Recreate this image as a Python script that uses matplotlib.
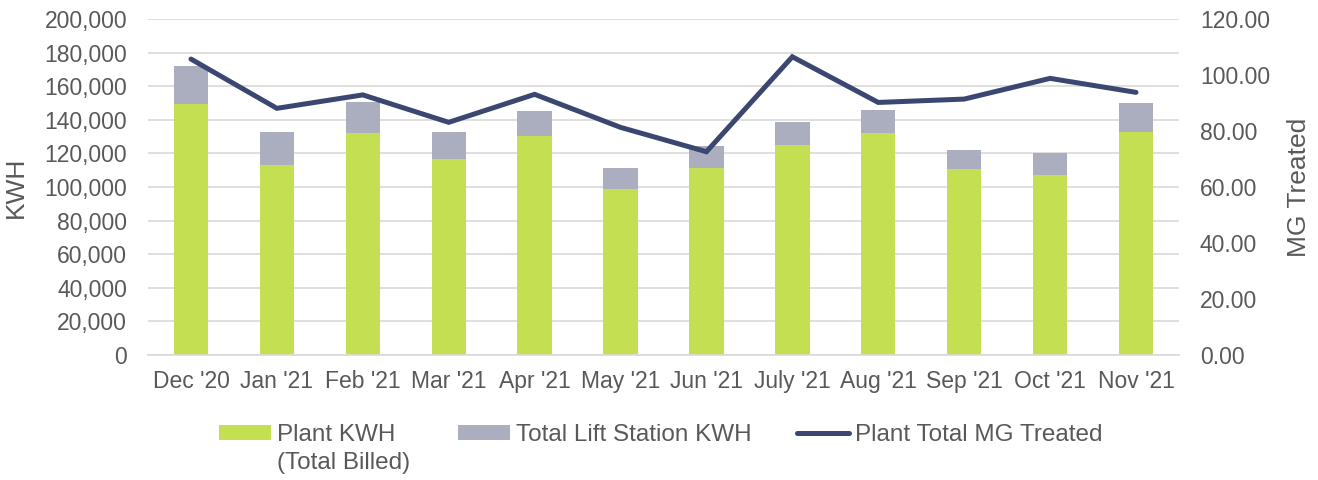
import matplotlib
matplotlib.use("Agg")
import matplotlib.pyplot as plt
import numpy as np

plt.rcParams['font.family'] = ['Liberation Sans', 'DejaVu Sans']

months = ["Dec '20", "Jan '21", "Feb '21", "Mar '21", "Apr '21", "May '21",
          "Jun '21", "July '21", "Aug '21", "Sep '21", "Oct '21", "Nov '21"]
plant_kwh = [149400, 113100, 132000, 116700, 130200, 98800,
             111500, 125200, 132300, 110500, 107100, 132900]
total_kwh = [172000, 132700, 150800, 132700, 145400, 111100,
             124400, 138900, 145800, 122200, 120400, 150000]
lift_kwh = [t - p for t, p in zip(total_kwh, plant_kwh)]
mg_treated = [105.7, 88.1, 92.9, 83.1, 93.1, 81.3,
              72.6, 106.5, 90.2, 91.4, 98.8, 93.8]

green = '#C4DF52'
gray = '#ABAEBF'
navy = '#3B4770'
txt = '#595959'
fs = 16.5
lfs = 17.5

fig = plt.figure(figsize=(13.18, 4.8), dpi=100)
ax = fig.add_axes([0.1123, 0.2604, 0.7822, 0.7000])
x = np.arange(len(months))
b1 = ax.bar(x, plant_kwh, width=0.4, color=green, zorder=2, label='Plant KWH')
b2 = ax.bar(x, lift_kwh, width=0.4, bottom=plant_kwh, color=gray, zorder=2,
            label='Total Lift Station KWH')
ax.set_xlim(-0.5, len(months) - 0.5)
ax.set_ylim(0, 200000)
ax.set_yticks(np.arange(0, 200001, 20000))
ax.set_yticklabels([f'{v:,}' for v in range(0, 200001, 20000)])
ax.grid(axis='y', color='#D9D9D9', linewidth=1.2, zorder=0)
ax.set_xticks(x)
ax.set_xticklabels(months)
for s in ['top', 'right', 'left']:
    ax.spines[s].set_visible(False)
ax.spines['bottom'].set_color('#D9D9D9')
ax.spines['bottom'].set_linewidth(1.2)
ax.tick_params(axis='y', length=0, labelsize=fs, colors=txt, pad=15)
ax.tick_params(axis='x', length=0, labelsize=fs, colors=txt, pad=11)
ax.set_ylabel('KWH', fontsize=19, color=txt)
ax.yaxis.set_label_coords(-0.117, 0.5)

ax2 = ax.twinx()
ln, = ax2.plot(x, mg_treated, color=navy, linewidth=3.6, solid_capstyle='round',
               solid_joinstyle='miter', zorder=3, label='Plant Total MG Treated')
ax2.set_ylim(0, 120)
ax2.set_yticks(np.arange(0, 121, 20))
ax2.set_yticklabels([f'{v:.2f}' for v in range(0, 121, 20)])
for s in ['top', 'right', 'left', 'bottom']:
    ax2.spines[s].set_visible(False)
ax2.tick_params(axis='y', length=0, labelsize=fs, colors=txt, pad=15)
ax2.set_ylabel('MG Treated', fontsize=19, color=txt)
ax2.yaxis.set_label_coords(1.1047, 0.5)

legend_y = 1 - 435 / 480
common = dict(loc='center left', frameon=False, fontsize=lfs, labelcolor=txt,
              handlelength=2.14, handleheight=0.535, handletextpad=0.25,
              borderpad=0, borderaxespad=0)
for h, xpos in [(b1, 219), (b2, 458), (ln, 797)]:
    lg = fig.legend(handles=[h], bbox_to_anchor=(xpos / 1318, legend_y), **common)
fig.text(277 / 1318, 1 - 463 / 480, '(Total Billed)', fontsize=lfs, color=txt,
         ha='left', va='center')

fig.savefig('out.png', dpi=100)
